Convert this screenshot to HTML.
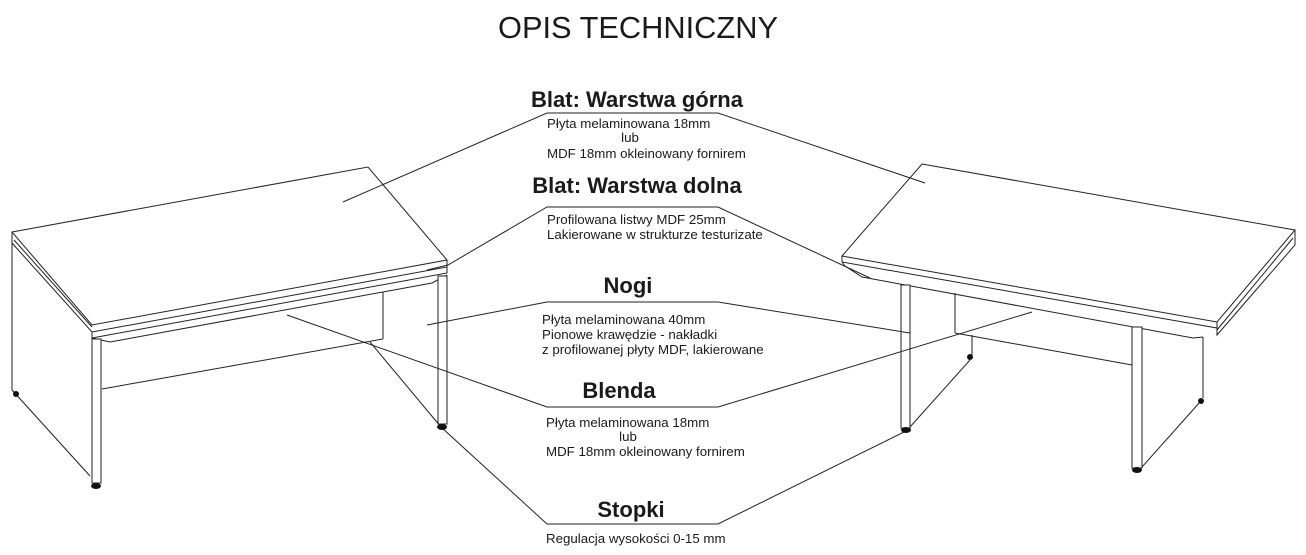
<!DOCTYPE html>
<html><head><meta charset="utf-8"><style>
html,body{margin:0;padding:0;background:#fff;}
svg{display:block;}
text{font-family:"Liberation Sans",Arial,sans-serif;fill:#1a1a1a;}
.h{font-weight:bold;font-size:22px;}
.d{font-size:13.3px;}
</style></head><body>
<svg width="1306" height="555" viewBox="0 0 1306 555" xmlns="http://www.w3.org/2000/svg">
<text x="638" y="38" font-size="31" text-anchor="middle" textLength="280" lengthAdjust="spacingAndGlyphs">OPIS TECHNICZNY</text>

<g fill="none" stroke="#222" stroke-width="1">
<polygon points="12,232 368,167 447,260 92,325" fill="#fff"/>
<polyline points="12,232 12,243 92,332 447,267 447,260"/>
<polyline points="14,240 92,327"/>
<polyline points="92,332 92,338 447,273 447,267"/>
<polyline points="92,338 110,342 432,283 447,275"/>
<polyline points="12,243 12,390 90,476"/>
<rect x="92" y="339" width="9" height="144" fill="#fff"/>
<rect x="438" y="276" width="9" height="148" fill="#fff"/>
<line x1="383" y1="292" x2="383" y2="339"/>
<line x1="383" y1="339" x2="102" y2="389"/>
<polygon points="922,164 1295,230 1217,322 842,256" fill="#fff"/>
<polyline points="842,256 842,262 1217,328 1217,322"/>
<polyline points="1217,328 1217,335 1295,245 1295,230"/>
<polyline points="1217,330 1293,238"/>
<polyline points="842,262 845,266 862,277 1193,338 1203,337"/>
<line x1="955" y1="293" x2="955" y2="333"/>
<line x1="955" y1="333" x2="1132" y2="365"/>
<line x1="972" y1="335" x2="972" y2="355"/>
<line x1="970" y1="360" x2="910" y2="427"/>
<line x1="1203" y1="337" x2="1203" y2="398"/>
<line x1="1200" y1="402" x2="1142" y2="467"/>
<rect x="901" y="285" width="9" height="143" fill="#fff"/>
<rect x="1132" y="327" width="10" height="141" fill="#fff"/>
<polyline points="343,202 547,113 718,113 925,183"/>
<polyline points="427,270 448,265 547,207 718,207 870,278"/>
<polyline points="427,325 547,302 718,302 910,333"/>
<polyline points="287,315 547,407 718,407 1032,312"/>
<polyline points="370,342 441,427 547,524 718,524 908,430"/>
</g>
<g fill="#111">
<ellipse cx="96" cy="486" rx="5" ry="3"/>
<ellipse cx="442" cy="427" rx="5" ry="3"/>
<ellipse cx="16" cy="394" rx="3" ry="3"/>
<ellipse cx="906" cy="430" rx="5" ry="3"/>
<ellipse cx="1137" cy="470" rx="5" ry="3"/>
<ellipse cx="970" cy="357" rx="3" ry="3"/>
<ellipse cx="1201" cy="401" rx="3" ry="3"/>
</g>

<text class="h" x="637" y="107" text-anchor="middle">Blat: Warstwa górna</text>
<text class="d" x="547" y="128">Płyta melaminowana 18mm</text>
<text class="d" x="630" y="142" text-anchor="middle">lub</text>
<text class="d" x="547" y="158">MDF 18mm okleinowany fornirem</text>

<text class="h" x="637" y="193" text-anchor="middle">Blat: Warstwa dolna</text>
<text class="d" x="547" y="224">Profilowana listwy MDF 25mm</text>
<text class="d" x="547" y="239">Lakierowane w strukturze testurizate</text>

<text class="h" x="628" y="293" text-anchor="middle">Nogi</text>
<text class="d" x="542" y="324">Płyta melaminowana 40mm</text>
<text class="d" x="542" y="339">Pionowe krawędzie - nakładki</text>
<text class="d" x="542" y="354">z profilowanej płyty MDF, lakierowane</text>

<text class="h" x="619" y="398" text-anchor="middle">Blenda</text>
<text class="d" x="546" y="427">Płyta melaminowana 18mm</text>
<text class="d" x="628" y="441" text-anchor="middle">lub</text>
<text class="d" x="546" y="456">MDF 18mm okleinowany fornirem</text>

<text class="h" x="631" y="517" text-anchor="middle">Stopki</text>
<text class="d" x="546" y="543">Regulacja wysokości 0-15 mm</text>
</svg>
</body></html>
